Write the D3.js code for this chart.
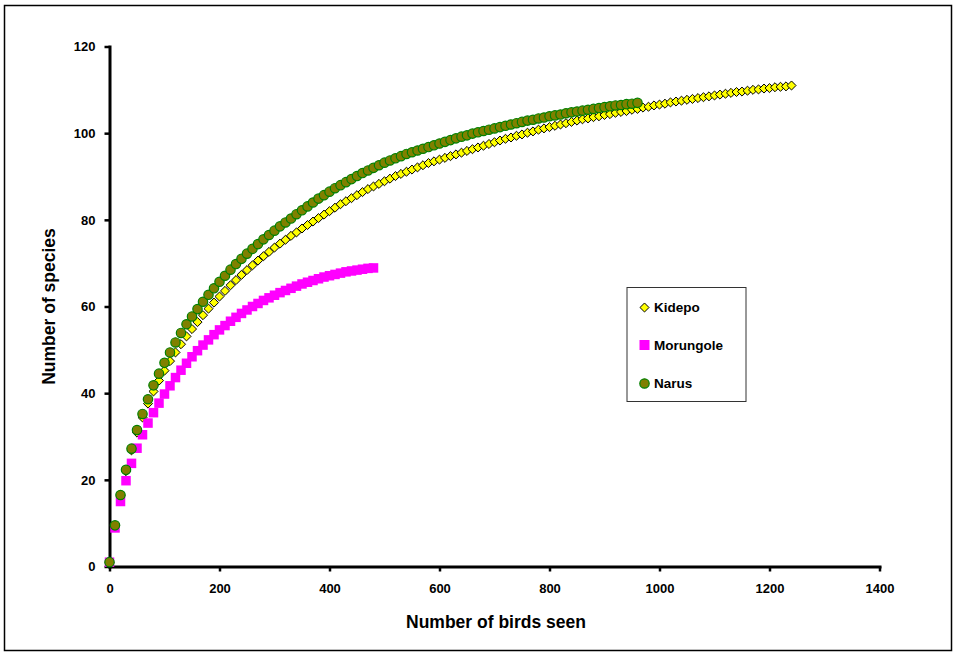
<!DOCTYPE html>
<html>
<head>
<meta charset="utf-8">
<script src="https://cdn.jsdelivr.net/npm/d3@7"></script>
<style>
  body { margin: 0; background: #fff; }
  svg { display: block; font-family: Arial, "Liberation Sans", sans-serif; font-weight: bold; }
</style>
</head>
<body>
<div id="mychart"></div>
<script>
// birds are sampled every 10 individuals, starting at 0
const sampleStep = 10;

const seriesNames = ["Kidepo", "Morungole", "Narus"];

const kidepo = [
  1, 9.4, 16.3, 22.0, 26.8, 30.9, 34.4, 37.6, 40.4, 42.9,
  45.2, 47.4, 49.4, 51.3, 53.1, 54.8, 56.4, 58.0, 59.5, 60.9,
  62.3, 63.6, 64.9, 66.1, 67.3, 68.4, 69.5, 70.6, 71.6, 72.6,
  73.6, 74.5, 75.4, 76.3, 77.1, 78.0, 78.8, 79.6, 80.4, 81.2,
  82.0, 82.8, 83.6, 84.3, 85.0, 85.7, 86.4, 87.1, 87.7, 88.3,
  88.9, 89.5, 90.1, 90.6, 91.1, 91.6, 92.1, 92.6, 93.1, 93.5,
  93.9, 94.3, 94.7, 95.1, 95.5, 95.9, 96.3, 96.7, 97.1, 97.5,
  97.9, 98.3, 98.7, 99.0, 99.4, 99.7, 100.1, 100.4, 100.8, 101.1,
  101.4, 101.7, 102.0, 102.3, 102.6, 102.9, 103.2, 103.4, 103.7, 103.9,
  104.2, 104.4, 104.7, 104.9, 105.1, 105.4, 105.6, 105.9, 106.1, 106.4,
  106.6, 106.8, 107.1, 107.3, 107.5, 107.7, 107.9, 108.1, 108.3, 108.5,
  108.7, 108.9, 109.1, 109.3, 109.5, 109.6, 109.8, 110.0, 110.1, 110.3,
  110.4, 110.6, 110.7, 110.8, 111.0
];

const morungole = [
  1, 8.9, 15.0, 19.8, 23.8, 27.3, 30.4, 33.1, 35.5, 37.7,
  39.8, 41.7, 43.6, 45.3, 46.9, 48.4, 49.8, 51.1, 52.3, 53.5,
  54.6, 55.6, 56.6, 57.5, 58.4, 59.2, 60.0, 60.7, 61.4, 62.0,
  62.6, 63.2, 63.7, 64.2, 64.7, 65.2, 65.6, 66.0, 66.4, 66.8,
  67.1, 67.4, 67.7, 68.0, 68.2, 68.4, 68.6, 68.8, 68.9
];

const narus = [
  1, 9.5, 16.5, 22.3, 27.2, 31.5, 35.2, 38.6, 41.8, 44.5,
  47.0, 49.4, 51.7, 53.9, 55.9, 57.7, 59.4, 61.1, 62.7, 64.2,
  65.7, 67.1, 68.5, 69.8, 71.0, 72.2, 73.3, 74.4, 75.5, 76.5,
  77.5, 78.5, 79.4, 80.3, 81.3, 82.2, 83.1, 84.0, 84.9, 85.7,
  86.5, 87.3, 88.0, 88.7, 89.4, 90.1, 90.8, 91.4, 92.0, 92.6,
  93.2, 93.7, 94.2, 94.7, 95.2, 95.6, 96.0, 96.4, 96.8, 97.2,
  97.6, 98.0, 98.4, 98.8, 99.2, 99.5, 99.9, 100.2, 100.5, 100.8,
  101.1, 101.4, 101.7, 102.0, 102.3, 102.6, 102.9, 103.1, 103.4, 103.6,
  103.9, 104.1, 104.3, 104.6, 104.8, 105.0, 105.2, 105.4, 105.6, 105.8,
  106.0, 106.2, 106.4, 106.5, 106.7, 106.8, 107.0
];

const xTicks = [0, 200, 400, 600, 800, 1000, 1200, 1400];
const yTicks = [0, 20, 40, 60, 80, 100, 120];

const width = 957;
const height = 657;

const svg = d3.select("#mychart")
  .append("svg")
    .attr("width", width)
    .attr("height", height);

// outer chart frame
svg.append("rect")
  .attr("x", 4.5).attr("y", 5.5)
  .attr("width", 947).attr("height", 645)
  .attr("fill", "#fff")
  .attr("stroke", "#000")
  .attr("stroke-width", 1.5);

const x = d3.scaleLinear().domain([0, 1400]).range([109.5, 879.5]);
const y = d3.scaleLinear().domain([0, 120]).range([566.5, 46.5]);

const xAxis = svg.append("g")
  .attr("transform", `translate(0,${y(0)})`)
  .call(d3.axisBottom(x).tickValues(xTicks).tickFormat(d3.format("d"))
    .tickSize(5).tickSizeOuter(0).tickPadding(12));

const yAxis = svg.append("g")
  .attr("transform", `translate(${x(0)},0)`)
  .call(d3.axisLeft(y).tickValues(yTicks).tickFormat(d3.format("d"))
    .tickSize(5).tickSizeOuter(0).tickPadding(9));

[xAxis, yAxis].forEach(ax => {
  ax.attr("font-family", null).attr("font-size", 13);
  ax.select(".domain").attr("stroke", "#000").attr("stroke-width", 3).attr("stroke-linecap", "square");
  ax.selectAll(".tick line").attr("stroke", "#000").attr("stroke-width", 2.5);
  ax.selectAll(".tick text").attr("fill", "#000");
});

svg.append("text")
  .attr("x", 496).attr("y", 628)
  .attr("text-anchor", "middle")
  .attr("font-size", 17.5)
  .text("Number of birds seen");

svg.append("text")
  .attr("transform", `translate(55,${(y(0) + y(120)) / 2}) rotate(-90)`)
  .attr("text-anchor", "middle")
  .attr("font-size", 17.5)
  .text("Number of species");

const toPoints = arr => arr.map((v, i) => ({ n: i * sampleStep, s: v }));

const diamond = d3.symbol().type(d3.symbolDiamond2).size(52);

// Kidepo: yellow diamonds
svg.append("g")
  .selectAll("path")
  .data(toPoints(kidepo))
  .join("path")
    .attr("transform", d => `translate(${x(d.n)},${y(d.s)})`)
    .attr("d", diamond())
    .attr("fill", "#ffff00")
    .attr("stroke", "#000")
    .attr("stroke-width", 1);

// Morungole: magenta squares
svg.append("g")
  .selectAll("rect")
  .data(toPoints(morungole))
  .join("rect")
    .attr("x", d => x(d.n) - 4.75)
    .attr("y", d => y(d.s) - 4.75)
    .attr("width", 9.5)
    .attr("height", 9.5)
    .attr("fill", "#ff00ff");

// Narus: olive circles
svg.append("g")
  .selectAll("circle")
  .data(toPoints(narus))
  .join("circle")
    .attr("cx", d => x(d.n))
    .attr("cy", d => y(d.s))
    .attr("r", 4.7)
    .attr("fill", "#808000")
    .attr("stroke", "#008000")
    .attr("stroke-width", 1.2);

// legend
const legend = svg.append("g").attr("transform", "translate(627,287.5)");
legend.append("rect")
  .attr("width", 119).attr("height", 114)
  .attr("fill", "#fff")
  .attr("stroke", "#333")
  .attr("stroke-width", 1);

const rowY = [20, 57.5, 96];
seriesNames.forEach((name, i) => {
  const row = legend.append("g").attr("transform", `translate(17.5,${rowY[i]})`);
  if (name === "Kidepo") {
    row.append("path").attr("d", diamond()).attr("fill", "#ffff00").attr("stroke", "#000");
  } else if (name === "Morungole") {
    row.append("rect").attr("x", -5).attr("y", -5).attr("width", 10).attr("height", 10).attr("fill", "#ff00ff");
  } else {
    row.append("circle").attr("r", 4.7).attr("fill", "#808000").attr("stroke", "#008000").attr("stroke-width", 1.2);
  }
  row.append("text")
    .attr("x", 9.5).attr("dy", "0.36em")
    .attr("font-size", 13.5)
    .text(name);
});
</script>
</body>
</html>
